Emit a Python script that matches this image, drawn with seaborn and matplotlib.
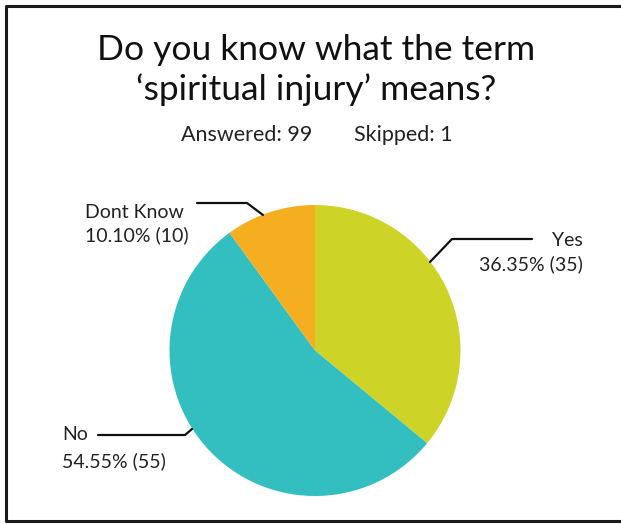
import matplotlib
matplotlib.use("Agg")
import matplotlib.pyplot as plt
import seaborn as sns

# Survey results
categories = ["Yes", "No", "Dont Know"]
percentages = [36.35, 54.55, 10.10]
counts = [35, 55, 10]
answered = 99
skipped = 1
title_lines = ["Do you know what the term", "\u2018spiritual injury\u2019 means?"]

sns.set_theme(style="white")
plt.rcParams["font.family"] = ["Lato", "DejaVu Sans"]

colors = ["#CDD427", "#33BFC0", "#F5AE1F"]

W, H = 621, 524
fig = plt.figure(figsize=(W / 100, H / 100), dpi=100)
ax = fig.add_axes([0, 0, 1, 1])
ax.set_xlim(0, W)
ax.set_ylim(0, H)
ax.axis("off")


def py(y):
    # convert a top-down pixel row into data y
    return H - y


# frame (left, top, bottom edges)
ax.plot([W + 5, 6, 6, W + 5], [py(6), py(6), py(521), py(521)],
        color="#1a1a1a", lw=2.2, solid_capstyle="butt", clip_on=False)

# pie
ax.pie(percentages, colors=colors, startangle=90, counterclock=False,
       center=(315, py(350.5)), radius=145.5,
       wedgeprops=dict(linewidth=0), frame=True)
ax.set_xlim(0, W)
ax.set_ylim(0, H)
ax.set_aspect("equal")
ax.axis("off")

# title
ax.text(316, py(50), title_lines[0], ha="center", va="center", fontsize=25.5, color="#111111")
ax.text(316, py(90), title_lines[1], ha="center", va="center", fontsize=25.5, color="#111111")
ax.text(247, py(135), f"Answered: {answered}", ha="center", va="center", fontsize=15.5, color="#222222")
ax.text(403, py(135), f"Skipped: {skipped}", ha="center", va="center", fontsize=15.5, color="#222222")

lab_kw = dict(fontsize=14, color="#222222", va="center")

# Yes label
ax.plot([430, 452, 532], [py(262), py(239), py(239)], color="#111111", lw=1.6)
ax.text(583, py(240), categories[0], ha="right", **lab_kw)
ax.text(583, py(264), f"{percentages[0]:.2f}% ({counts[0]})", ha="right", **lab_kw)

# Dont Know label
ax.plot([197, 247, 263], [py(203), py(203), py(215)], color="#111111", lw=1.6)
ax.text(85, py(212), categories[2], ha="left", **lab_kw)
ax.text(85, py(235), f"{percentages[2]:.2f}% ({counts[2]})", ha="left", **lab_kw)

# No label
ax.plot([98, 185, 192], [py(435), py(435), py(429)], color="#111111", lw=1.6)
ax.text(62, py(435), categories[1], ha="left", **lab_kw)
ax.text(62, py(461), f"{percentages[1]:.2f}% ({counts[1]})", ha="left", **lab_kw)

fig.savefig("out.png", dpi=100, facecolor="white")
